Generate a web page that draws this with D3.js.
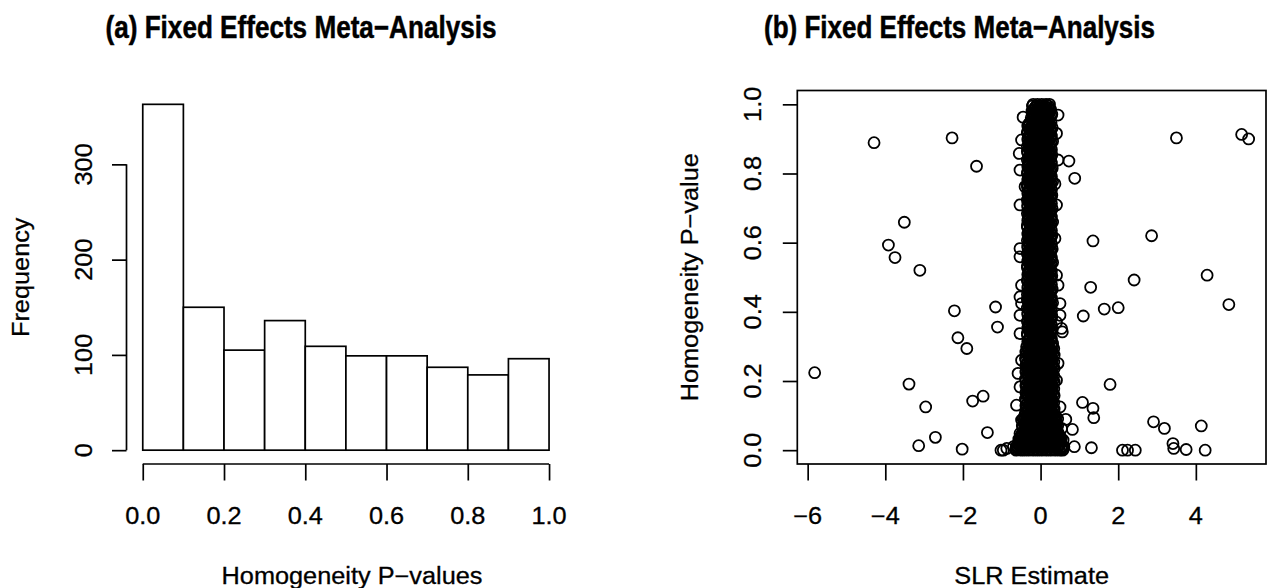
<!DOCTYPE html>
<html>
<head>
<meta charset="utf-8">
<script src="https://cdn.jsdelivr.net/npm/d3@7"></script>
<style>
  html, body { margin: 0; padding: 0; background: #fff; }
  svg { display: block; }
  text { font-family: "Liberation Sans", Arial, Helvetica, sans-serif; fill: #000; stroke: #000; stroke-width: 0.3px; }
</style>
</head>
<body>
<svg id="chart" width="1272" height="588"></svg>
<script>
// ---------- panel (a): histogram of homogeneity p-values ----------
const binEdges  = [0, 0.1, 0.2, 0.3, 0.4, 0.5, 0.6, 0.7, 0.8, 0.9, 1.0];
const binCounts = [363, 150, 105, 136, 109, 99, 99, 87, 79, 96];
const histXTicks = [0, 0.2, 0.4, 0.6, 0.8, 1.0];
const histYTicks = [0, 100, 200, 300];

// ---------- panel (b): SLR estimate vs homogeneity p-value ----------
// isolated estimates [SLR estimate, p-value]
const outlierPoints = [
  [-5.82,0.224],[-4.29,0.889],[-3.92,0.593],[-3.75,0.557],[-3.51,0.659],[-3.11,0.520],
  [-3.39,0.191],[-2.96,0.125],[-2.71,0.037],[-3.14,0.013],[-2.28,0.903],[-1.65,0.821],
  [-2.22,0.403],[-1.16,0.414],[-1.11,0.356],[-2.13,0.325],[-1.90,0.294],[-1.75,0.142],
  [-1.48,0.156],[-1.37,0.051],[-2.02,0.003],[-1.02,0.000],[-0.96,0.000],
  [0.73,0.836],[0.88,0.786],[1.35,0.605],[2.86,0.620],[3.50,0.903],[5.18,0.913],[5.36,0.900],
  [4.29,0.506],[2.41,0.492],[1.29,0.471],[4.85,0.421],[2.00,0.412],[1.64,0.408],[1.10,0.388],
  [1.79,0.190],[1.08,0.138],[1.35,0.121],[1.37,0.094],[2.91,0.082],[3.19,0.063],[4.14,0.070],
  [3.41,0.019],[3.43,0.005],[3.75,0.002],[4.24,0.000],[2.11,0.000],[2.24,0.000],[2.44,0.000],
  [0.87,0.010],[1.31,0.007],[0.82,0.060],[0.65,0.089],[0.56,0.342]
];

// the dense band of estimates near zero, one row per p-value level: [p, [estimates]]
const columnRows = [
  [1.000,[-0.19,-0.08,0.03,0.14,0.23]],
  [0.990,[-0.15,-0.04,0.08,0.19]],
  [0.981,[-0.22,-0.10,0.01,0.13,0.25]],
  [0.971,[-0.16,-0.05,0.07,0.18,0.29]],
  [0.961,[-0.24,-0.11,0.02,0.12,0.24]],
  [0.952,[-0.18,-0.06,0.06,0.19]],
  [0.942,[-0.31,-0.20,-0.09,0.03,0.14,0.24]],
  [0.932,[-0.26,-0.15,-0.03,0.08,0.20,0.30]],
  [0.922,[-0.33,-0.21,-0.10,0.02,0.13,0.25]],
  [0.913,[-0.27,-0.14,-0.04,0.07,0.19]],
  [0.903,[-0.32,-0.20,-0.08,0.03,0.15,0.26]],
  [0.893,[-0.25,-0.15,-0.03,0.09,0.20,0.31]],
  [0.883,[-0.30,-0.19,-0.09,0.02,0.14,0.24]],
  [0.874,[-0.27,-0.16,-0.04,0.08,0.18]],
  [0.864,[-0.34,-0.21,-0.10,0.01,0.13,0.25]],
  [0.854,[-0.26,-0.14,-0.03,0.09,0.20,0.29]],
  [0.844,[-0.31,-0.20,-0.08,0.03,0.14,0.26]],
  [0.835,[-0.28,-0.15,-0.04,0.07,0.19]],
  [0.825,[-0.32,-0.21,-0.09,0.02,0.15,0.24]],
  [0.815,[-0.25,-0.14,-0.02,0.08,0.20,0.30]],
  [0.806,[-0.33,-0.19,-0.08,0.03,0.13,0.25]],
  [0.796,[-0.27,-0.16,-0.04,0.09,0.19]],
  [0.786,[-0.31,-0.20,-0.10,0.02,0.14,0.26]],
  [0.776,[-0.26,-0.15,-0.03,0.08,0.20,0.31]],
  [0.767,[-0.34,-0.21,-0.09,0.01,0.13,0.24]],
  [0.757,[-0.28,-0.14,-0.04,0.07,0.18]],
  [0.747,[-0.32,-0.20,-0.08,0.03,0.15,0.25]],
  [0.737,[-0.25,-0.15,-0.02,0.09,0.19,0.29]],
  [0.728,[-0.30,-0.19,-0.09,0.02,0.14,0.26]],
  [0.718,[-0.27,-0.16,-0.04,0.08,0.20]],
  [0.708,[-0.33,-0.21,-0.10,0.03,0.13,0.24]],
  [0.698,[-0.26,-0.14,-0.03,0.07,0.19,0.30]],
  [0.689,[-0.31,-0.20,-0.08,0.02,0.15,0.25]],
  [0.679,[-0.28,-0.15,-0.04,0.09,0.18]],
  [0.669,[-0.32,-0.19,-0.09,0.01,0.14,0.26]],
  [0.660,[-0.25,-0.16,-0.02,0.08,0.20,0.31]],
  [0.650,[-0.34,-0.21,-0.10,0.03,0.13,0.24]],
  [0.640,[-0.27,-0.14,-0.04,0.07,0.19]],
  [0.630,[-0.31,-0.20,-0.08,0.02,0.15,0.25]],
  [0.621,[-0.26,-0.15,-0.03,0.09,0.20,0.29]],
  [0.611,[-0.30,-0.19,-0.09,0.03,0.14,0.26]],
  [0.601,[-0.28,-0.16,-0.04,0.08,0.18]],
  [0.591,[-0.33,-0.21,-0.10,0.02,0.13,0.24]],
  [0.582,[-0.25,-0.14,-0.02,0.07,0.19,0.30]],
  [0.572,[-0.32,-0.20,-0.08,0.01,0.15,0.25]],
  [0.562,[-0.27,-0.15,-0.04,0.09,0.20]],
  [0.552,[-0.31,-0.19,-0.09,0.03,0.14,0.26]],
  [0.543,[-0.26,-0.16,-0.03,0.08,0.18,0.31]],
  [0.533,[-0.34,-0.21,-0.10,0.02,0.13,0.24]],
  [0.523,[-0.28,-0.14,-0.04,0.07,0.19]],
  [0.513,[-0.30,-0.20,-0.08,0.03,0.15,0.25]],
  [0.504,[-0.25,-0.15,-0.02,0.09,0.20,0.29]],
  [0.494,[-0.33,-0.19,-0.09,0.01,0.14,0.26]],
  [0.484,[-0.27,-0.16,-0.04,0.08,0.19]],
  [0.475,[-0.32,-0.21,-0.10,0.02,0.13,0.24]],
  [0.465,[-0.26,-0.14,-0.03,0.07,0.20,0.30]],
  [0.455,[-0.31,-0.20,-0.08,0.03,0.15,0.25]],
  [0.445,[-0.28,-0.15,-0.04,0.09,0.18]],
  [0.436,[-0.34,-0.19,-0.09,0.02,0.14,0.26]],
  [0.426,[-0.25,-0.16,-0.02,0.08,0.19,0.31]],
  [0.416,[-0.30,-0.21,-0.10,0.01,0.13,0.24]],
  [0.406,[-0.27,-0.14,-0.04,0.07,0.20]],
  [0.397,[-0.33,-0.20,-0.08,0.03,0.15,0.25]],
  [0.387,[-0.26,-0.15,-0.03,0.09,0.18,0.29]],
  [0.377,[-0.32,-0.19,-0.09,0.02,0.14,0.26]],
  [0.367,[-0.28,-0.16,-0.04,0.08,0.19]],
  [0.358,[-0.31,-0.21,-0.10,0.03,0.13,0.24]],
  [0.348,[-0.25,-0.14,-0.02,0.07,0.20,0.30]],
  [0.338,[-0.34,-0.20,-0.08,0.01,0.15,0.25]],
  [0.328,[-0.27,-0.15,-0.04,0.09,0.18]],
  [0.319,[-0.30,-0.19,-0.09,0.02,0.14,0.26]],
  [0.309,[-0.26,-0.16,-0.03,0.08,0.19,0.31]],
  [0.299,[-0.36,-0.24,-0.13,-0.02,0.10,0.21,0.31]],
  [0.289,[-0.30,-0.19,-0.08,0.04,0.15,0.27]],
  [0.280,[-0.35,-0.25,-0.12,-0.01,0.09,0.22,0.32]],
  [0.270,[-0.31,-0.18,-0.07,0.05,0.16,0.26]],
  [0.260,[-0.37,-0.24,-0.13,-0.02,0.11,0.21,0.30]],
  [0.250,[-0.29,-0.19,-0.08,0.03,0.15,0.28]],
  [0.241,[-0.36,-0.25,-0.12,-0.01,0.10,0.22,0.33]],
  [0.231,[-0.31,-0.18,-0.07,0.04,0.16,0.27]],
  [0.221,[-0.35,-0.24,-0.13,-0.02,0.09,0.21,0.31]],
  [0.211,[-0.30,-0.19,-0.08,0.05,0.15,0.26]],
  [0.202,[-0.37,-0.25,-0.12,-0.01,0.11,0.22,0.32]],
  [0.192,[-0.29,-0.18,-0.07,0.03,0.16,0.28]],
  [0.182,[-0.36,-0.24,-0.13,-0.02,0.10,0.21,0.30]],
  [0.172,[-0.31,-0.19,-0.08,0.04,0.15,0.27]],
  [0.163,[-0.35,-0.25,-0.12,-0.01,0.09,0.22,0.33]],
  [0.153,[-0.30,-0.18,-0.07,0.05,0.16,0.26]],
  [0.143,[-0.37,-0.24,-0.13,-0.02,0.11,0.21,0.31]],
  [0.134,[-0.29,-0.19,-0.08,0.03,0.15,0.28]],
  [0.124,[-0.36,-0.25,-0.12,-0.01,0.10,0.22,0.32]],
  [0.114,[-0.31,-0.18,-0.07,0.04,0.16,0.27]],
  [0.104,[-0.38,-0.26,-0.13,-0.02,0.09,0.21,0.33]],
  [0.095,[-0.40,-0.31,-0.19,-0.08,0.04,0.15,0.26,0.36]],
  [0.085,[-0.43,-0.36,-0.25,-0.14,-0.02,0.09,0.21,0.32,0.40]],
  [0.075,[-0.41,-0.30,-0.19,-0.07,0.03,0.15,0.27,0.37]],
  [0.066,[-0.45,-0.36,-0.24,-0.13,-0.02,0.10,0.20,0.31,0.41]],
  [0.056,[-0.42,-0.31,-0.18,-0.08,0.04,0.16,0.26,0.38]],
  [0.046,[-0.48,-0.37,-0.25,-0.14,-0.02,0.09,0.21,0.32,0.43]],
  [0.037,[-0.52,-0.42,-0.31,-0.19,-0.08,0.03,0.15,0.26,0.37,0.47]],
  [0.027,[-0.55,-0.47,-0.36,-0.25,-0.13,-0.02,0.09,0.20,0.32,0.43,0.51]],
  [0.017,[-0.58,-0.42,-0.31,-0.19,-0.08,0.04,0.15,0.27,0.38,0.49]],
  [0.008,[-0.60,-0.49,-0.37,-0.25,-0.14,-0.02,0.09,0.21,0.32,0.44,0.54]],
  [0.000,[-0.63,-0.52,-0.42,-0.31,-0.19,-0.08,0.03,0.15,0.26,0.38,0.49,0.57]]
];

// further estimates of the band, lying between the levels above: [p, [estimates]]
const columnRowsMid = [
  [0.995,[-0.21,-0.11,-0.01,0.10,0.21]],
  [0.985,[-0.17,-0.06,0.05,0.16,0.26]],
  [0.976,[-0.20,-0.12,-0.01,0.10,0.22]],
  [0.966,[-0.18,-0.07,0.04,0.15,0.27]],
  [0.956,[-0.22,-0.13,0.00,0.11,0.21]],
  [0.947,[-0.28,-0.17,-0.05,0.05,0.17,0.27]],
  [0.937,[-0.33,-0.23,-0.12,-0.01,0.11,0.21]],
  [0.927,[-0.29,-0.18,-0.06,0.05,0.17,0.27]],
  [0.917,[-0.34,-0.22,-0.11,-0.01,0.10,0.22]],
  [0.908,[-0.30,-0.17,-0.06,0.06,0.16,0.28]],
  [0.898,[-0.33,-0.23,-0.12,0.00,0.11,0.21]],
  [0.888,[-0.29,-0.18,-0.07,0.05,0.17,0.27]],
  [0.878,[-0.34,-0.22,-0.11,-0.01,0.10,0.22]],
  [0.869,[-0.28,-0.17,-0.06,0.06,0.16,0.28]],
  [0.859,[-0.33,-0.23,-0.12,-0.01,0.11,0.21]],
  [0.849,[-0.29,-0.18,-0.06,0.05,0.17,0.27]],
  [0.839,[-0.34,-0.22,-0.11,0.00,0.10,0.22]],
  [0.830,[-0.30,-0.17,-0.07,0.06,0.16,0.28]],
  [0.820,[-0.33,-0.23,-0.12,-0.01,0.11,0.21]],
  [0.810,[-0.29,-0.18,-0.06,0.05,0.17,0.27]],
  [0.801,[-0.34,-0.22,-0.11,-0.01,0.10,0.22]],
  [0.791,[-0.28,-0.17,-0.06,0.06,0.16,0.28]],
  [0.781,[-0.33,-0.23,-0.12,0.00,0.11,0.21]],
  [0.771,[-0.29,-0.18,-0.07,0.05,0.17,0.27]],
  [0.762,[-0.34,-0.22,-0.11,-0.01,0.10,0.22]],
  [0.752,[-0.30,-0.17,-0.06,0.06,0.16,0.28]],
  [0.742,[-0.33,-0.23,-0.12,-0.01,0.11,0.21]],
  [0.732,[-0.29,-0.18,-0.06,0.05,0.17,0.27]],
  [0.723,[-0.34,-0.22,-0.11,0.00,0.10,0.22]],
  [0.713,[-0.28,-0.17,-0.07,0.06,0.16,0.28]],
  [0.703,[-0.33,-0.23,-0.12,-0.01,0.11,0.21]],
  [0.693,[-0.29,-0.18,-0.06,0.05,0.17,0.27]],
  [0.684,[-0.34,-0.22,-0.11,-0.01,0.10,0.22]],
  [0.674,[-0.30,-0.17,-0.06,0.06,0.16,0.28]],
  [0.664,[-0.33,-0.23,-0.12,0.00,0.11,0.21]],
  [0.655,[-0.29,-0.18,-0.07,0.05,0.17,0.27]],
  [0.645,[-0.34,-0.22,-0.11,-0.01,0.10,0.22]],
  [0.635,[-0.28,-0.17,-0.06,0.06,0.16,0.28]],
  [0.625,[-0.33,-0.23,-0.12,-0.01,0.11,0.21]],
  [0.616,[-0.29,-0.18,-0.06,0.05,0.17,0.27]],
  [0.606,[-0.34,-0.22,-0.11,0.00,0.10,0.22]],
  [0.596,[-0.30,-0.17,-0.07,0.06,0.16,0.28]],
  [0.586,[-0.33,-0.23,-0.12,-0.01,0.11,0.21]],
  [0.577,[-0.29,-0.18,-0.06,0.05,0.17,0.27]],
  [0.567,[-0.34,-0.22,-0.11,-0.01,0.10,0.22]],
  [0.557,[-0.28,-0.17,-0.06,0.06,0.16,0.28]],
  [0.547,[-0.33,-0.23,-0.12,0.00,0.11,0.21]],
  [0.538,[-0.29,-0.18,-0.07,0.05,0.17,0.27]],
  [0.528,[-0.34,-0.22,-0.11,-0.01,0.10,0.22]],
  [0.518,[-0.30,-0.17,-0.06,0.06,0.16,0.28]],
  [0.508,[-0.33,-0.23,-0.12,-0.01,0.11,0.21]],
  [0.499,[-0.29,-0.18,-0.06,0.05,0.17,0.27]],
  [0.489,[-0.34,-0.22,-0.11,0.00,0.10,0.22]],
  [0.479,[-0.28,-0.17,-0.07,0.06,0.16,0.28]],
  [0.470,[-0.33,-0.23,-0.12,-0.01,0.11,0.21]],
  [0.460,[-0.29,-0.18,-0.06,0.05,0.17,0.27]],
  [0.450,[-0.34,-0.22,-0.11,-0.01,0.10,0.22]],
  [0.440,[-0.30,-0.17,-0.06,0.06,0.16,0.28]],
  [0.431,[-0.33,-0.23,-0.12,0.00,0.11,0.21]],
  [0.421,[-0.29,-0.18,-0.07,0.05,0.17,0.27]],
  [0.411,[-0.34,-0.22,-0.11,-0.01,0.10,0.22]],
  [0.401,[-0.28,-0.17,-0.06,0.06,0.16,0.28]],
  [0.392,[-0.33,-0.23,-0.12,-0.01,0.11,0.21]],
  [0.382,[-0.29,-0.18,-0.06,0.05,0.17,0.27]],
  [0.372,[-0.34,-0.22,-0.11,0.00,0.10,0.22]],
  [0.362,[-0.30,-0.17,-0.07,0.06,0.16,0.28]],
  [0.353,[-0.33,-0.23,-0.12,-0.01,0.11,0.21]],
  [0.343,[-0.29,-0.18,-0.06,0.05,0.17,0.27]],
  [0.333,[-0.34,-0.22,-0.11,-0.01,0.10,0.22]],
  [0.323,[-0.28,-0.17,-0.06,0.06,0.16,0.28]],
  [0.314,[-0.33,-0.23,-0.12,0.00,0.11,0.21]],
  [0.304,[-0.29,-0.18,-0.07,0.05,0.17,0.27]],
  [0.294,[-0.33,-0.22,-0.10,0.01,0.13,0.24,0.34]],
  [0.284,[-0.38,-0.27,-0.16,-0.05,0.07,0.18,0.29]],
  [0.275,[-0.32,-0.21,-0.10,0.02,0.12,0.24,0.35]],
  [0.265,[-0.39,-0.27,-0.15,-0.05,0.06,0.18,0.28]],
  [0.255,[-0.33,-0.22,-0.11,0.01,0.13,0.23,0.34]],
  [0.245,[-0.38,-0.28,-0.16,-0.04,0.07,0.19,0.29]],
  [0.236,[-0.34,-0.21,-0.10,0.01,0.12,0.24,0.35]],
  [0.226,[-0.38,-0.27,-0.16,-0.05,0.06,0.18,0.28]],
  [0.216,[-0.33,-0.22,-0.10,0.02,0.13,0.24,0.34]],
  [0.206,[-0.39,-0.27,-0.15,-0.05,0.07,0.18,0.29]],
  [0.197,[-0.32,-0.21,-0.11,0.01,0.12,0.23,0.35]],
  [0.187,[-0.38,-0.28,-0.16,-0.04,0.06,0.19,0.28]],
  [0.177,[-0.33,-0.22,-0.10,0.01,0.13,0.24,0.34]],
  [0.167,[-0.38,-0.27,-0.16,-0.05,0.07,0.18,0.29]],
  [0.158,[-0.34,-0.21,-0.10,0.02,0.12,0.24,0.35]],
  [0.148,[-0.39,-0.27,-0.15,-0.05,0.06,0.18,0.28]],
  [0.138,[-0.33,-0.22,-0.11,0.01,0.13,0.23,0.34]],
  [0.129,[-0.38,-0.28,-0.16,-0.04,0.07,0.19,0.29]],
  [0.119,[-0.32,-0.21,-0.10,0.01,0.12,0.24,0.35]],
  [0.109,[-0.39,-0.27,-0.16,-0.05,0.06,0.18,0.30]],
  [0.099,[-0.41,-0.28,-0.16,-0.05,0.07,0.18,0.30,0.39]],
  [0.090,[-0.45,-0.33,-0.22,-0.11,0.01,0.12,0.24,0.35,0.44]],
  [0.080,[-0.39,-0.27,-0.16,-0.04,0.06,0.18,0.29,0.40]],
  [0.070,[-0.47,-0.33,-0.21,-0.10,0.01,0.13,0.24,0.35,0.44]],
  [0.061,[-0.40,-0.27,-0.15,-0.05,0.07,0.19,0.29,0.41]],
  [0.051,[-0.46,-0.34,-0.22,-0.11,0.01,0.12,0.24,0.35,0.45]],
  [0.041,[-0.51,-0.40,-0.28,-0.16,-0.05,0.06,0.18,0.29,0.40,0.50]],
  [0.032,[-0.56,-0.45,-0.33,-0.22,-0.10,0.01,0.12,0.23,0.35,0.46,0.53]],
  [0.022,[-0.57,-0.50,-0.39,-0.28,-0.16,-0.05,0.07,0.18,0.29,0.41,0.52]],
  [0.012,[-0.62,-0.53,-0.45,-0.34,-0.22,-0.11,0.01,0.12,0.24,0.35,0.47,0.56]],
  [0.004,[-0.64,-0.57,-0.46,-0.36,-0.25,-0.13,-0.02,0.09,0.20,0.32,0.43,0.53,0.59]]
];

// estimates sitting on the ragged edges of the band [SLR estimate, p-value]
const columnEdgePoints = [
  [-0.45,0.963],[-0.49,0.897],[-0.55,0.858],[-0.53,0.810],[-0.40,0.762],[-0.53,0.709],
  [0.45,0.969],[0.41,0.916],[0.45,0.839],[0.37,0.770],[0.41,0.709],
  [-0.53,0.583],[-0.53,0.559],[-0.49,0.477],[-0.53,0.443],[-0.49,0.424],[-0.53,0.390],[-0.53,0.337],
  [0.37,0.612],[0.41,0.506],[0.45,0.477],[0.50,0.424],[0.50,0.390],[0.54,0.352],[0.41,0.370],
  [-0.49,0.260],[-0.58,0.222],[-0.53,0.183],[-0.62,0.130],[-0.49,0.087],[-0.53,0.048],
  [-0.70,0.010],[-0.87,0.005],
  [0.45,0.251],[0.41,0.202],[0.50,0.125],[0.54,0.063],[0.58,0.029],[0.60,0.010]
];

const scatterXTicks = [-6, -4, -2, 0, 2, 4];
const scatterYTicks = [0, 0.2, 0.4, 0.6, 0.8, 1.0];

// ---------- layout ----------
const svg = d3.select("#chart");
const LW = 1.7;            // line width for axes and boxes
const FS = 23;             // body text size
const WIDEN = 1.1;         // horizontal widening of body text
const TICK = 14.5;
const DOT_R = 5.5;
const DOT_W = 1.8;

const panelA = { x0: 126.5, x1: 565.3, y0: 90.5, y1: 464 };
const panelB = { x0: 797.3, x1: 1266,  y0: 90.5, y1: 464 };

// plot ranges are padded by 4% on each side of the data range
const pad = ([a, b]) => [a - (b - a) * 0.04, b + (b - a) * 0.04];

function widen(sel, k) {
  sel.each(function () {
    const L = this.getComputedTextLength();
    this.setAttribute("textLength", L * k);
    this.setAttribute("lengthAdjust", "spacingAndGlyphs");
  });
}

function title(text, cx) {
  svg.append("text")
    .attr("x", cx).attr("y", 38)
    .attr("text-anchor", "middle")
    .style("font-family", "'Liberation Sans Narrow', 'Liberation Sans', Arial, sans-serif")
    .style("font-weight", "bold")
    .style("font-size", "31px")
    .style("stroke-width", "0.5px")
    .attr("textLength", 391)
    .attr("lengthAdjust", "spacingAndGlyphs")
    .text(text);
}

// ================= panel (a) =================
const hx = d3.scaleLinear()
  .domain(pad([binEdges[0], binEdges[binEdges.length - 1]]))
  .range([panelA.x0, panelA.x1]);
const hy = d3.scaleLinear()
  .domain(pad([0, d3.max(binCounts)]))
  .range([panelA.y1, panelA.y0]);

const bins = binCounts.map((c, i) => ({ x0: binEdges[i], x1: binEdges[i + 1], n: c }));

svg.append("g").selectAll("rect")
  .data(bins).join("rect")
  .attr("x", d => hx(d.x0))
  .attr("y", d => hy(d.n))
  .attr("width", d => hx(d.x1) - hx(d.x0))
  .attr("height", d => hy(0) - hy(d.n))
  .attr("fill", "#fff")
  .attr("stroke", "#000")
  .attr("stroke-width", LW);

// x axis of the histogram
const gax = svg.append("g").attr("transform", `translate(0,${panelA.y1})`);
gax.call(d3.axisBottom(hx).tickValues(histXTicks).tickSize(TICK + 2).tickSizeOuter(0).tickFormat(""));
gax.select(".domain").remove();
gax.selectAll(".tick line").attr("stroke-width", LW);
gax.append("line")
  .attr("x1", hx(histXTicks[0])).attr("x2", hx(histXTicks[histXTicks.length - 1]))
  .attr("stroke", "#000").attr("stroke-width", LW);
const axLab = svg.append("g").selectAll("text")
  .data(histXTicks).join("text")
  .attr("x", d => hx(d)).attr("y", 523.5)
  .attr("text-anchor", "middle")
  .style("font-size", FS + "px")
  .text(d3.format(".1f"));
widen(axLab, WIDEN);

// y axis of the histogram
const gay = svg.append("g").attr("transform", `translate(${panelA.x0},0)`);
gay.call(d3.axisLeft(hy).tickValues(histYTicks).tickSize(TICK).tickSizeOuter(0).tickFormat(""));
gay.select(".domain").remove();
gay.selectAll(".tick line").attr("stroke-width", LW);
gay.append("line")
  .attr("y1", hy(histYTicks[0])).attr("y2", hy(histYTicks[histYTicks.length - 1]))
  .attr("stroke", "#000").attr("stroke-width", LW);
const ayLab = svg.append("g").selectAll("text")
  .data(histYTicks).join("text")
  .attr("transform", d => `translate(92,${hy(d)}) rotate(-90)`)
  .attr("text-anchor", "middle")
  .style("font-size", FS + "px")
  .text(d3.format("d"));
widen(ayLab, WIDEN);

widen(svg.append("text")
  .attr("x", 352).attr("y", 584)
  .attr("text-anchor", "middle")
  .style("font-size", FS + "px")
  .text("Homogeneity P\u2212values"), WIDEN);

widen(svg.append("text")
  .attr("transform", `translate(29,${(panelA.y0 + panelA.y1) / 2}) rotate(-90)`)
  .attr("text-anchor", "middle")
  .style("font-size", FS + "px")
  .text("Frequency"), WIDEN);

title("(a) Fixed Effects Meta\u2212Analysis", 301);

// ================= panel (b) =================
const rowsToPoints = rows => rows.flatMap(([p, xs]) => xs.map(x => [x, p]));
const allPoints = rowsToPoints(columnRows).concat(
  rowsToPoints(columnRowsMid), columnEdgePoints, outlierPoints);

const sx = d3.scaleLinear()
  .domain(pad(d3.extent(allPoints, d => d[0])))
  .range([panelB.x0, panelB.x1]);
const sy = d3.scaleLinear()
  .domain(pad(d3.extent(allPoints, d => d[1])))
  .range([panelB.y1, panelB.y0]);

svg.append("g").selectAll("circle")
  .data(allPoints).join("circle")
  .attr("cx", d => sx(d[0]))
  .attr("cy", d => sy(d[1]))
  .attr("r", DOT_R)
  .attr("fill", "none")
  .attr("stroke", "#000")
  .attr("stroke-width", DOT_W);

svg.append("rect")
  .attr("x", panelB.x0).attr("y", panelB.y0)
  .attr("width", panelB.x1 - panelB.x0).attr("height", panelB.y1 - panelB.y0)
  .attr("fill", "none").attr("stroke", "#000").attr("stroke-width", LW);

const gbx = svg.append("g").attr("transform", `translate(0,${panelB.y1})`);
gbx.call(d3.axisBottom(sx).tickValues(scatterXTicks).tickSize(TICK + 2).tickSizeOuter(0).tickFormat(""));
gbx.select(".domain").remove();
gbx.selectAll(".tick line").attr("stroke-width", LW);
const bxLab = svg.append("g").selectAll("text")
  .data(scatterXTicks).join("text")
  .attr("x", d => sx(d)).attr("y", 523.5)
  .attr("text-anchor", "middle")
  .style("font-size", FS + "px")
  .text(d3.format("d"));
widen(bxLab, WIDEN);

const gby = svg.append("g").attr("transform", `translate(${panelB.x0},0)`);
gby.call(d3.axisLeft(sy).tickValues(scatterYTicks).tickSize(TICK).tickSizeOuter(0).tickFormat(""));
gby.select(".domain").remove();
gby.selectAll(".tick line").attr("stroke-width", LW);
const byLab = svg.append("g").selectAll("text")
  .data(scatterYTicks).join("text")
  .attr("transform", d => `translate(760.5,${sy(d)}) rotate(-90)`)
  .attr("text-anchor", "middle")
  .style("font-size", FS + "px")
  .text(d3.format(".1f"));
widen(byLab, WIDEN);

widen(svg.append("text")
  .attr("x", (panelB.x0 + panelB.x1) / 2).attr("y", 584)
  .attr("text-anchor", "middle")
  .style("font-size", FS + "px")
  .text("SLR Estimate"), WIDEN);

widen(svg.append("text")
  .attr("transform", `translate(697.5,${(panelB.y0 + panelB.y1) / 2}) rotate(-90)`)
  .attr("text-anchor", "middle")
  .style("font-size", FS + "px")
  .text("Homogeneity P\u2212value"), WIDEN);

title("(b) Fixed Effects Meta\u2212Analysis", 959.5);
</script>
</body>
</html>
